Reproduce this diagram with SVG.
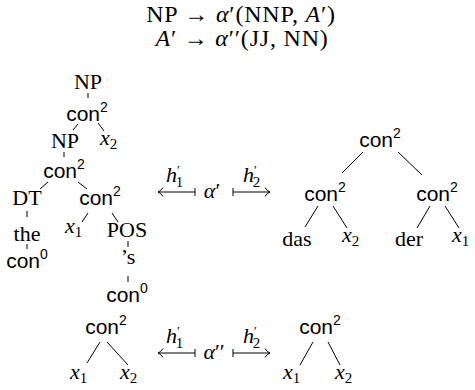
<svg xmlns="http://www.w3.org/2000/svg" width="475" height="390" viewBox="0 0 475 390">
<style>
text{fill:#000}
.r{font-family:"Liberation Serif","Times New Roman",serif;font-size:22px}
.m{font-family:"Liberation Serif","Times New Roman",serif;font-size:22px;font-style:italic}
.t{font-family:"Liberation Serif","Times New Roman",serif;font-size:24px;letter-spacing:0.8px;text-anchor:middle}
.s{font-family:"Liberation Sans",Arial,sans-serif;font-size:21px}
.sup{font-size:14px;font-style:normal}
.sub{font-family:"Liberation Serif",serif;font-size:15px;font-style:normal}
.pr{font-family:"Liberation Serif",serif;font-size:13px;font-style:normal}
.it{font-style:italic}
.c{text-anchor:middle}
.e line,.e path{stroke:#000;stroke-width:1;fill:none}
</style>
<g id="title">
<text class="t" x="241" y="22">NP → <tspan class="it">α</tspan>′(NNP, <tspan class="it">A</tspan>′)</text>
<text class="t" x="242" y="46"><tspan class="it">A</tspan>′ → <tspan class="it">α</tspan>′′(JJ, NN)</text>
</g>
<g class="e" id="connectors">
<line x1="88" y1="93" x2="88" y2="98"/>
<line x1="78" y1="124" x2="73" y2="130"/>
<line x1="98" y1="123" x2="104" y2="131"/>
<line x1="64" y1="152" x2="64" y2="157"/>
<line x1="48" y1="182" x2="40" y2="189"/>
<line x1="78" y1="182" x2="87" y2="189"/>
<line x1="27" y1="211" x2="27" y2="217"/>
<line x1="27" y1="244" x2="27" y2="249"/>
<line x1="88" y1="213" x2="82" y2="222"/>
<line x1="112" y1="213" x2="118" y2="222"/>
<line x1="128" y1="241" x2="128" y2="247"/>
<line x1="128" y1="276" x2="128" y2="282"/>
<line x1="363" y1="152" x2="342" y2="173"/>
<line x1="398" y1="152" x2="422" y2="175"/>
<line x1="318" y1="206" x2="305" y2="227"/>
<line x1="333" y1="206" x2="347" y2="228"/>
<line x1="430" y1="206" x2="417" y2="228"/>
<line x1="445" y1="206" x2="459" y2="228"/>
<line x1="100" y1="342" x2="87" y2="363"/>
<line x1="107" y1="342" x2="128" y2="365"/>
<line x1="313" y1="342" x2="300" y2="365"/>
<line x1="328" y1="342" x2="340" y2="365"/>
<line x1="158" y1="192" x2="195" y2="192"/>
<line x1="195" y1="188" x2="195" y2="196"/>
<path d="M163,187.5 Q161,191 158,192 Q161,193 163,196.5"/>
<line x1="233" y1="192" x2="270" y2="192"/>
<line x1="233" y1="188" x2="233" y2="196"/>
<path d="M265,187.5 Q267,191 270,192 Q267,193 265,196.5"/>
<line x1="158" y1="353" x2="195" y2="353"/>
<line x1="195" y1="349" x2="195" y2="357"/>
<path d="M163,348.5 Q161,352 158,353 Q161,354 163,357.5"/>
<line x1="233" y1="353" x2="270" y2="353"/>
<line x1="233" y1="349" x2="233" y2="357"/>
<path d="M265,348.5 Q267,352 270,353 Q267,354 265,357.5"/>
</g>
<g id="left-tree">
<g id="n-np1"><text class="r c" x="88" y="89">NP</text></g>
<g id="n-con2a"><text class="s c" x="87" y="121">con<tspan class="sup" dy="-9">2</tspan></text></g>
<g id="n-np2"><text class="r c" x="65" y="148">NP</text></g>
<g id="n-x2a"><text class="m" x="100" y="145">x<tspan class="sub" dy="4">2</tspan></text></g>
<g id="n-con2b"><text class="s c" x="64" y="178">con<tspan class="sup" dy="-9">2</tspan></text></g>
<g id="n-dt"><text class="r c" x="27" y="205">DT</text></g>
<g id="n-con2c"><text class="s c" x="100" y="205">con<tspan class="sup" dy="-9">2</tspan></text></g>
<g id="n-the"><text class="r c" x="27" y="241">the</text></g>
<g id="n-con0a"><text class="s c" x="27" y="268">con<tspan class="sup" dy="-9">0</tspan></text></g>
<g id="n-x1a"><text class="m" x="65" y="233">x<tspan class="sub" dy="4">1</tspan></text></g>
<g id="n-pos"><text class="r c" x="127" y="237">POS</text></g>
<g id="n-s"><text class="r c" x="128" y="264">’s</text></g>
<g id="n-con0b"><text class="s c" x="127" y="302">con<tspan class="sup" dy="-9">0</tspan></text></g>
</g>
<g id="map-top">
<text class="m" x="166" y="182">h<tspan class="pr" dy="-8">′</tspan><tspan class="sub" dx="-4" dy="13">1</tspan></text>
<text class="m c" x="212" y="198">α<tspan font-style="normal">′</tspan></text>
<text class="m" x="243" y="182">h<tspan class="pr" dy="-8">′</tspan><tspan class="sub" dx="-4" dy="13">2</tspan></text>
</g>
<g id="right-tree">
<g id="n-rcon"><text class="s c" x="380" y="147">con<tspan class="sup" dy="-9">2</tspan></text></g>
<g id="n-rcon-l"><text class="s c" x="325" y="201">con<tspan class="sup" dy="-9">2</tspan></text></g>
<g id="n-rcon-r"><text class="s c" x="437" y="201">con<tspan class="sup" dy="-9">2</tspan></text></g>
<g id="n-das"><text class="r c" x="297" y="246">das</text></g>
<g id="n-x2b"><text class="m" x="342" y="242">x<tspan class="sub" dy="4">2</tspan></text></g>
<g id="n-der"><text class="r c" x="409" y="246">der</text></g>
<g id="n-x1b"><text class="m" x="452" y="242">x<tspan class="sub" dy="4">1</tspan></text></g>
</g>
<g id="bottom-left">
<g id="n-bcon1"><text class="s c" x="106" y="334">con<tspan class="sup" dy="-9">2</tspan></text></g>
<g id="n-bx1"><text class="m" x="70" y="379">x<tspan class="sub" dy="4">1</tspan></text></g>
<g id="n-bx2"><text class="m" x="120" y="379">x<tspan class="sub" dy="4">2</tspan></text></g>
</g>
<g id="map-bottom">
<text class="m" x="166" y="343">h<tspan class="pr" dy="-8">′</tspan><tspan class="sub" dx="-4" dy="13">1</tspan></text>
<text class="m c" x="214" y="359">α<tspan font-style="normal">′′</tspan></text>
<text class="m" x="243" y="343">h<tspan class="pr" dy="-8">′</tspan><tspan class="sub" dx="-4" dy="13">2</tspan></text>
</g>
<g id="bottom-right">
<g id="n-bcon2"><text class="s c" x="320" y="334">con<tspan class="sup" dy="-9">2</tspan></text></g>
<g id="n-bx3"><text class="m" x="283" y="379">x<tspan class="sub" dy="4">1</tspan></text></g>
<g id="n-bx4"><text class="m" x="335" y="379">x<tspan class="sub" dy="4">2</tspan></text></g>
</g>
</svg>
